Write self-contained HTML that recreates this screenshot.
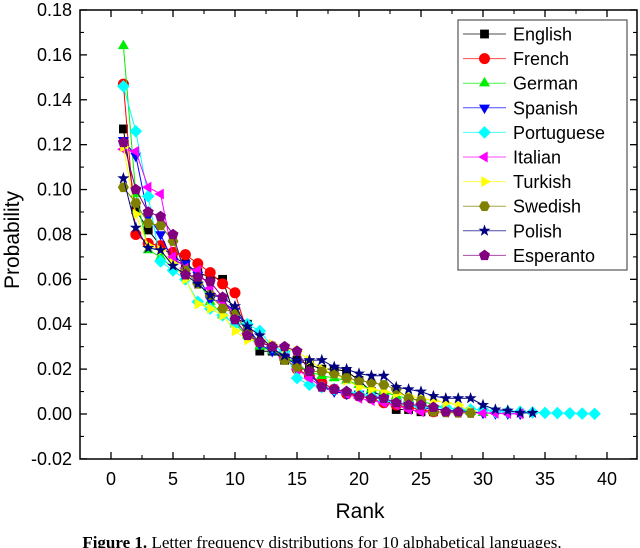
<!DOCTYPE html>
<html><head><meta charset="utf-8"><style>
body{margin:0;background:#fff}
svg{display:block;font-family:"Liberation Sans",Arial,sans-serif}
</style></head><body>
<svg id="chart" width="640" height="548" viewBox="0 0 640 548" xmlns="http://www.w3.org/2000/svg">
<rect x="0" y="0" width="640" height="548" fill="#fff"/>
<g id="plot"></g>
<text x="360" y="518" font-size="21" text-anchor="middle">Rank</text>
<text transform="translate(19,240) rotate(-90)" font-size="21" text-anchor="middle">Probability</text>
<text x="322" y="548" font-size="17" text-anchor="middle" font-family="Liberation Serif,serif"><tspan font-weight="bold">Figure 1.</tspan> Letter frequency distributions for 10 alphabetical languages.</text>
</svg>
<script>
const languages=["English","French","German","Spanish","Portuguese","Italian","Turkish","Swedish","Polish","Esperanto"];
const colors=["#000000","#ff0000","#00ee00","#0000ff","#00ffff","#ff00ff","#ffff00","#808000","#000080","#800080"];
const markers=["square","circle","tri-up","tri-down","diamond","tri-left","tri-right","hexagon","star","pentagon"];
const english=[.127,.091,.082,.075,.070,.067,.063,.061,.060,.043,.040,.028,.028,.024,.024,.022,.020,.020,.019,.015,.010,.008,.002,.002,.001,.001];
const french=[.147,.080,.076,.075,.072,.071,.067,.063,.058,.054,.036,.032,.030,.025,.020,.017,.014,.011,.009,.008,.007,.005,.004,.003,.002,.001];
const german=[.164,.098,.073,.070,.065,.063,.060,.050,.044,.040,.035,.030,.028,.026,.022,.019,.017,.016,.015,.013,.011,.010,.008,.007,.006,.004,.003,.002,.001,.0005];
const spanish=[.122,.115,.088,.080,.068,.067,.062,.051,.050,.046,.039,.031,.028,.025,.022,.018,.012,.010,.009,.009,.008,.007,.005,.004,.003,.002,.002,.001,.001,.0005,.0003,.0002,.0001];
const portuguese=[.146,.126,.097,.068,.064,.060,.050,.047,.044,.040,.040,.037,.030,.028,.016,.013,.012,.011,.010,.009,.008,.006,.005,.004,.003,.003,.003,.002,.002,.002,.001,.001,.001,.0007,.0005,.0004,.0003,.0002,.0001];
const italian=[.118,.117,.101,.098,.070,.065,.064,.056,.050,.045,.036,.032,.030,.025,.020,.016,.012,.011,.009,.007,.006,.005,.004,.002,.001,.001,.0008,.0006,.0005,.0004,.0003,.0002,.0001];
const turkish=[.119,.089,.075,.073,.067,.060,.049,.047,.044,.037,.033,.033,.031,.029,.028,.024,.020,.018,.015,.012,.011,.010,.009,.008,.007,.006,.005,.004,.0013];
const swedish=[.101,.094,.085,.084,.077,.064,.058,.053,.047,.045,.036,.032,.030,.024,.021,.019,.019,.018,.016,.015,.014,.013,.011,.007,.006,.001,.0007,.0005,.0004];
const polish=[.105,.083,.074,.073,.066,.062,.058,.053,.052,.048,.039,.035,.029,.026,.024,.024,.024,.021,.020,.018,.017,.017,.012,.011,.010,.008,.007,.007,.007,.004,.002,.0015,.0005,.0005];
const esperanto=[.121,.100,.090,.088,.080,.062,.061,.059,.052,.042,.035,.032,.030,.030,.028,.019,.012,.011,.010,.008,.007,.007,.005,.004,.004,.003,.001,.001];
const series=[english,french,german,spanish,portuguese,italian,turkish,swedish,polish,esperanto];
const xTicks=[0,5,10,15,20,25,30,35,40];
const yTicks=[-0.02,0,0.02,0.04,0.06,0.08,0.10,0.12,0.14,0.16,0.18];

const L=80,R=637,T=10,B=459;
const xs=v=>111+v*(607-111)/40;
const ys=v=>414-v*(414-10)/0.18;
const NS="http://www.w3.org/2000/svg";
const plot=document.getElementById('plot');
function mk(tag,attrs,parent){const e=document.createElementNS(NS,tag);for(const k in attrs)e.setAttribute(k,attrs[k]);(parent||plot).appendChild(e);return e;}

function markerPath(type,x,y,s){
  const p=[];
  const poly=(n,rot,r)=>{for(let i=0;i<n;i++){const a=rot+i*2*Math.PI/n;p.push([x+r*Math.cos(a),y+r*Math.sin(a)]);}};
  if(type==='square'){return `M${x-s*.8},${y-s*.8}h${s*1.6}v${s*1.6}h${-s*1.6}Z`;}
  if(type==='circle'){return `M${x-s},${y}a${s},${s} 0 1,0 ${2*s},0a${s},${s} 0 1,0 ${-2*s},0Z`;}
  if(type==='tri-up')poly(3,-Math.PI/2,s*1.15);
  if(type==='tri-down')poly(3,Math.PI/2,s*1.15);
  if(type==='tri-left')poly(3,Math.PI,s*1.15);
  if(type==='tri-right')poly(3,0,s*1.15);
  if(type==='diamond')poly(4,0,s*1.15);
  if(type==='hexagon')poly(6,0,s);
  if(type==='pentagon')poly(5,-Math.PI/2,s*1.05);
  if(type==='star'){for(let i=0;i<10;i++){const a=-Math.PI/2+i*Math.PI/5;const r=i%2?s*0.45:s*1.15;p.push([x+r*Math.cos(a),y+r*Math.sin(a)]);}}
  return 'M'+p.map(q=>q[0].toFixed(1)+','+q[1].toFixed(1)).join('L')+'Z';
}

const frame=mk('rect',{x:L,y:T,width:R-L,height:B-T,fill:'none',stroke:'#000','stroke-width':1.5});



for(let i=0;i<xTicks.length;i++){
  const v=xTicks[i],x=xs(v);
  const t=mk('line',{x1:x,y1:B,x2:x,y2:B-7,stroke:'#000','stroke-width':1.3});
  
  
  mk('line',{x1:x,y1:T,x2:x,y2:T+7,stroke:'#000','stroke-width':1.3});
  const mx=xs(v+2.5);
  if(mx<R){mk('line',{x1:mx,y1:B,x2:mx,y2:B-4,stroke:'#000','stroke-width':1.1});mk('line',{x1:mx,y1:T,x2:mx,y2:T+4,stroke:'#000','stroke-width':1.1});}
  const lb=mk('text',{x:x,y:B+26,'font-size':18,'text-anchor':'middle'});
  lb.textContent=String(v);
  
  
}
for(let i=0;i<yTicks.length;i++){
  const v=yTicks[i],y=ys(v);
  const t=mk('line',{x1:L,y1:y,x2:L+7,y2:y,stroke:'#000','stroke-width':1.3});
  
  
  mk('line',{x1:R,y1:y,x2:R-7,y2:y,stroke:'#000','stroke-width':1.3});
  const my=ys(v+0.01);
  if(my>T){mk('line',{x1:L,y1:my,x2:L+4,y2:my,stroke:'#000','stroke-width':1.1});mk('line',{x1:R,y1:my,x2:R-4,y2:my,stroke:'#000','stroke-width':1.1});}
  const lb=mk('text',{x:L-8,y:y+6,'font-size':18,'text-anchor':'end'});
  lb.textContent=v.toFixed(2);
  
  
}

for(let s=0;s<series.length;s++){
  const g=mk('g',{});
  
  
  const d=series[s].map((v,i)=>(i?'L':'M')+xs(i+1).toFixed(1)+','+ys(v).toFixed(1)).join('');
  const ln=mk('path',{d:d,fill:'none',stroke:colors[s],'stroke-width':1},g);
  
  
  series[s].forEach((v,i)=>{
    const m=mk('path',{d:markerPath(markers[s],xs(i+1),ys(v),5.5),fill:colors[s]},g);
    
    
  });
}

const lg=mk('g',{});


mk('rect',{x:458,y:20,width:169,height:250,fill:'#fff',stroke:'#555','stroke-width':1.2},lg);
for(let s=0;s<languages.length;s++){
  const y=34+s*24.6;
  const e=mk('g',{},lg);
  
  
  mk('line',{x1:463,y1:y,x2:506,y2:y,stroke:colors[s],'stroke-width':1,opacity:0.7},e);
  mk('path',{d:markerPath(markers[s],484.5,y,5.5),fill:colors[s]},e);
  const t=mk('text',{x:513,y:y+6.5,'font-size':18},e);
  t.textContent=languages[s];
}
</script>
</body></html>
